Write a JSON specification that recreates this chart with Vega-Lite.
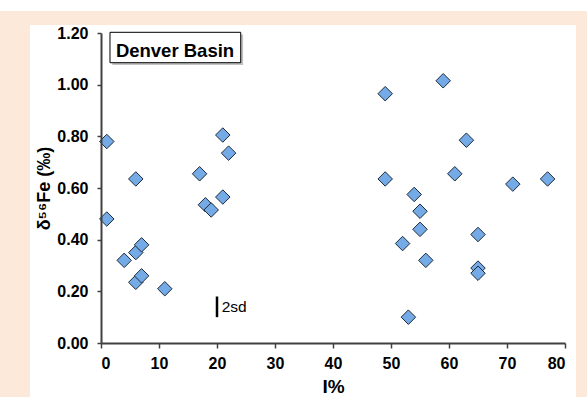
{
  "$schema": "https://vega.github.io/schema/vega-lite/v6.json",
  "width": 464,
  "height": 310,
  "autosize": {"type": "none"},
  "padding": {"left": 101, "top": 33, "right": 22, "bottom": 54},
  "background": "#fce9da",
  "config": {"view": {"stroke": null}, "font": "Liberation Sans"},
  "datasets": {
    "points": [
      {"I": 1, "d56Fe": 0.78}, {"I": 1, "d56Fe": 0.48}, {"I": 6, "d56Fe": 0.635},
      {"I": 4, "d56Fe": 0.32}, {"I": 6, "d56Fe": 0.35}, {"I": 7, "d56Fe": 0.38},
      {"I": 6, "d56Fe": 0.235}, {"I": 7, "d56Fe": 0.26}, {"I": 11, "d56Fe": 0.21},
      {"I": 17, "d56Fe": 0.655}, {"I": 18, "d56Fe": 0.535}, {"I": 19, "d56Fe": 0.515},
      {"I": 21, "d56Fe": 0.565}, {"I": 21, "d56Fe": 0.805}, {"I": 22, "d56Fe": 0.735},
      {"I": 49, "d56Fe": 0.965}, {"I": 59, "d56Fe": 1.015}, {"I": 63, "d56Fe": 0.785},
      {"I": 49, "d56Fe": 0.635}, {"I": 54, "d56Fe": 0.575}, {"I": 61, "d56Fe": 0.655},
      {"I": 71, "d56Fe": 0.615}, {"I": 77, "d56Fe": 0.635}, {"I": 55, "d56Fe": 0.51},
      {"I": 55, "d56Fe": 0.44}, {"I": 52, "d56Fe": 0.385}, {"I": 56, "d56Fe": 0.32},
      {"I": 65, "d56Fe": 0.42}, {"I": 65, "d56Fe": 0.29}, {"I": 65, "d56Fe": 0.27},
      {"I": 53, "d56Fe": 0.10}
    ]
  },
  "layer": [
    {
      "data": {"values": [{}]},
      "mark": {"type": "rect", "fill": "#ffffff", "clip": false},
      "encoding": {
        "x": {"datum": -12.24, "type": "quantitative", "scale": {"domain": [0, 80], "nice": false},
          "axis": {
            "title": "I%", "values": [0, 10, 20, 30, 40, 50, 60, 70, 80], "format": "d", "grid": false, "zindex": 1,
            "domainColor": "#404040", "domainWidth": 2, "tickColor": "#404040", "tickWidth": 1.5, "tickSize": 5,
            "labelFontSize": 16, "labelFontWeight": "bold", "labelColor": "#000000", "labelPadding": 7,
            "titleFontSize": 19, "titleFontWeight": "bold", "titleColor": "#000000", "titlePadding": 6
          }},
        "x2": {"datum": 81.9},
        "y": {"datum": -0.4, "type": "quantitative", "scale": {"domain": [0, 1.2], "nice": false},
          "axis": {
            "title": "δ⁵⁶Fe (‰)", "values": [0, 0.2, 0.4, 0.6, 0.8, 1.0, 1.2], "format": ".2f", "grid": false, "zindex": 1,
            "domainColor": "#404040", "domainWidth": 2, "tickColor": "#404040", "tickWidth": 1.5, "tickSize": 4,
            "labelFontSize": 16, "labelFontWeight": "bold", "labelColor": "#000000", "labelPadding": 9,
            "titleFontSize": 18, "titleFontWeight": "bold", "titleColor": "#000000", "titlePadding": 3
          }},
        "y2": {"datum": 1.231}
      }
    },
    {
      "data": {"values": [{}]},
      "mark": {"type": "rect", "fill": "#ffffff", "clip": false},
      "encoding": {
        "x": {"datum": -20, "type": "quantitative", "scale": {"domain": [0, 80], "nice": false}},
        "x2": {"datum": 90},
        "y": {"datum": 1.285, "type": "quantitative", "scale": {"domain": [0, 1.2], "nice": false}},
        "y2": {"datum": 1.5}
      }
    },
    {
      "data": {"values": [{}]},
      "mark": {"type": "rect", "fill": "#9a9a9a", "opacity": 0.6, "clip": false},
      "encoding": {
        "x": {"datum": 1.95, "type": "quantitative", "scale": {"domain": [0, 80], "nice": false}},
        "x2": {"datum": 24.5},
        "y": {"datum": 1.076, "type": "quantitative", "scale": {"domain": [0, 1.2], "nice": false}},
        "y2": {"datum": 1.194}
      }
    },
    {
      "data": {"values": [{}]},
      "mark": {"type": "rect", "fill": "#ffffff", "stroke": "#000000", "strokeWidth": 1, "clip": false},
      "encoding": {
        "x": {"datum": 1.55, "type": "quantitative", "scale": {"domain": [0, 80], "nice": false}},
        "x2": {"datum": 24.09},
        "y": {"datum": 1.085, "type": "quantitative", "scale": {"domain": [0, 1.2], "nice": false}},
        "y2": {"datum": 1.2027}
      }
    },
    {
      "data": {"values": [{"label": "Denver Basin"}]},
      "mark": {"type": "text", "align": "center", "baseline": "alphabetic", "fontSize": 18.5, "fontWeight": "bold", "color": "#000000", "clip": false},
      "encoding": {
        "x": {"datum": 12.76, "type": "quantitative", "scale": {"domain": [0, 80], "nice": false}},
        "y": {"datum": 1.106, "type": "quantitative", "scale": {"domain": [0, 1.2], "nice": false}},
        "text": {"field": "label"}
      }
    },
    {
      "data": {"values": [{"label": "2sd"}]},
      "mark": {"type": "rule", "color": "#000000", "strokeWidth": 2.5},
      "encoding": {
        "x": {"datum": 20, "type": "quantitative", "scale": {"domain": [0, 80], "nice": false}},
        "y": {"datum": 0.10, "type": "quantitative", "scale": {"domain": [0, 1.2], "nice": false}},
        "y2": {"datum": 0.18}
      }
    },
    {
      "data": {"values": [{"label": "2sd"}]},
      "mark": {"type": "text", "align": "left", "baseline": "alphabetic", "fontSize": 15.5, "color": "#000000"},
      "encoding": {
        "x": {"datum": 20.8, "type": "quantitative", "scale": {"domain": [0, 80], "nice": false}},
        "y": {"datum": 0.121, "type": "quantitative", "scale": {"domain": [0, 1.2], "nice": false}},
        "text": {"field": "label"}
      }
    },
    {
      "data": {"name": "points"},
      "mark": {"type": "point", "shape": "diamond", "filled": true, "fill": "#74aae6", "stroke": "#1e2a38", "strokeWidth": 1, "size": 210, "opacity": 1, "clip": false},
      "encoding": {
        "x": {"field": "I", "type": "quantitative", "scale": {"domain": [0, 80], "nice": false}},
        "y": {"field": "d56Fe", "type": "quantitative", "scale": {"domain": [0, 1.2], "nice": false}}
      }
    }
  ]
}
